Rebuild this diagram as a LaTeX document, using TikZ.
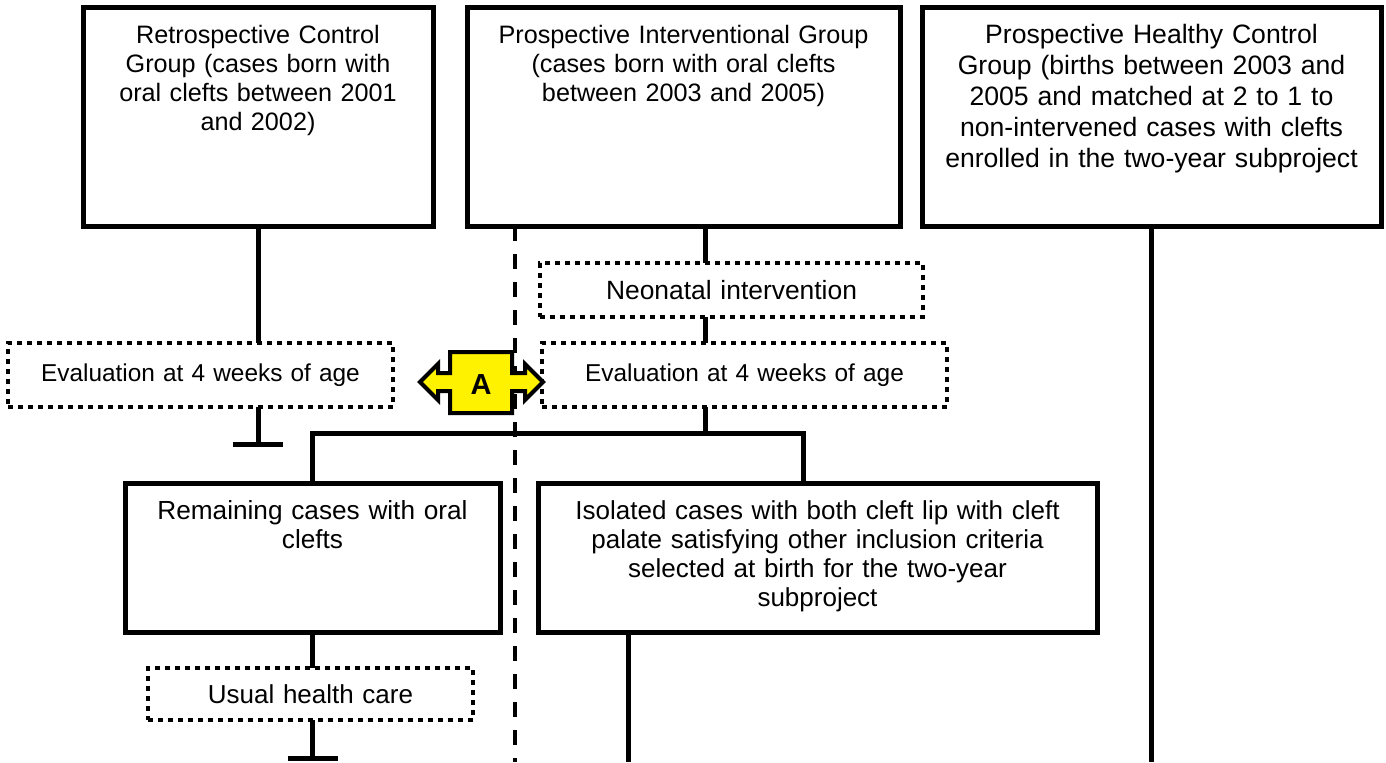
\documentclass[tikz,border=0pt]{standalone}
\usepackage{fontspec}
\setmainfont{Liberation Sans}
\usetikzlibrary{calc}
\usetikzlibrary{positioning}

\begin{document}
\begin{tikzpicture}[x=0.5pt,y=-0.5pt,font=\fontsize{12.6}{14.5}\selectfont]
		\tikzstyle{Group} = [draw, line width=2.5pt, align=center, anchor=north west, outer sep=0pt,
			inner xsep=0pt, inner ysep=9pt, text height=9pt]
		\tikzstyle{Stage} = [draw, line width=2pt, dash pattern=on 2.5pt off 2.5pt,
			align=center, anchor=north west, outer sep=0pt, inner sep=0pt]
		\tikzstyle{Link} = [line width=2.5pt]
		\tikzstyle{Split} = [line width=1.75pt, dash pattern=on 7.5pt off 6.5pt]

		\useasboundingbox (0,0) rectangle (1386,762);

		%Study groups
		\node[Group, text width=175pt, text depth=82.5pt] (rcg) at (83,7)
			{Retrospective Control\\Group (cases born with\\oral clefts between 2001\\and 2002)};
		\node[Group, text width=216.5pt, text depth=82.5pt] (pig) at (467,7)
			{Prospective Interventional Group\\(cases born with oral clefts\\between 2003 and 2005)};
		\node[Group, text width=229.5pt, text depth=82.5pt, font=\fontsize{13.3}{15.5}\selectfont] (phcg) at (922,7)
			{Prospective Healthy Control\\Group (births between 2003 and\\2005 and matched at 2 to 1 to\\non-intervened cases with clefts\\enrolled in the two-year subproject};

		%Steps
		\node[Stage, text width=191.5pt, minimum height=27pt, font=\fontsize{13.2}{15}\selectfont] (neo) at (540,263) {Neonatal intervention};
		\node[Stage, text width=192.5pt, minimum height=32pt, font=\fontsize{12.2}{14.5}\selectfont] (evalL) at (8,343) {Evaluation at 4 weeks of age};
		\node[Stage, text width=202.5pt, minimum height=32pt, font=\fontsize{12.2}{14.5}\selectfont] (evalR) at (542,343) {Evaluation at 4 weeks of age};

		\node[Group, text width=187.5pt, text depth=47.5pt, font=\fontsize{13.1}{14.5}\selectfont] (rem) at (125,483)
			{Remaining cases with oral\\clefts};
		\node[Group, text width=279.5pt, text depth=47.5pt, font=\fontsize{13}{14.5}\selectfont] (iso) at (538,483)
			{Isolated cases with both cleft lip with cleft\\palate satisfying other inclusion criteria\\selected at birth for the two-year\\subproject};

		\node[Stage, text width=162.5pt, minimum height=26pt, font=\fontsize{13}{15}\selectfont] (usual) at (148,668) {Usual health care};

		%Dividing line
		\coordinate (split) at (515,762);
		\draw[Split] (split |- pig.south) -- (split);

		%Comparison A
		\draw[line width=2pt, fill=yellow, line join=miter]
			(420,382) -- (438,364) -- (438,373) -- (450,373) -- (450,352) -- (512,352)
			-- (512,373) -- (525,373) -- (525,364) -- (543,382) -- (525,400) -- (525,391)
			-- (512,391) -- (512,413) -- (450,413) -- (450,391) -- (438,391) -- (438,400) -- cycle;
		\node[font=\fontsize{14.5}{16}\selectfont\bfseries] (A) at (481,385) {A};

		%Connectors
		\coordinate (spine) at (705,0);
		\coordinate (bottom) at (0,762);
		\draw[Link] (rcg.south) -- (rcg.south |- evalL.north);
		\coordinate (endL) at (258,444);
		\draw[Link] (rcg.south |- evalL.south) -- (endL);
		\draw[Link] ($(endL)+(-25,0)$) -- ($(endL)+(25,0)$);

		\draw[Link] (pig.south -| spine) -- (neo.north -| spine);
		\draw[Link] (neo.south -| spine) -- (evalR.north -| spine);
		\coordinate (fork) at (705,433);
		\coordinate (forkR) at (803,433);
		\draw[Link] (evalR.south -| spine) -- (fork);
		\draw[Link] (rem.north) |- (forkR) -- (forkR |- iso.north);

		\draw[Link] (rem.south) -- (rem.south |- usual.north);
		\coordinate (endR) at (312.5,758);
		\draw[Link] (rem.south |- usual.south) -- (endR);
		\draw[Link] ($(endR)+(-25,0)$) -- ($(endR)+(25,0)$);

		\coordinate (isoOut) at (628,0);
		\draw[Link] (iso.south -| isoOut) -- (isoOut |- bottom);
		\draw[Link] (phcg.south) -- (phcg.south |- bottom);
	\end{tikzpicture}
\end{document}
